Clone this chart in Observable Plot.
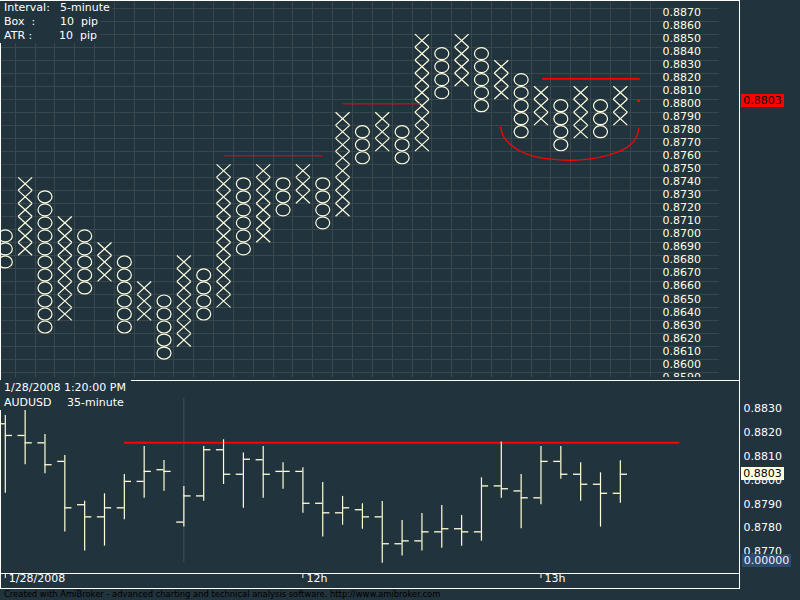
<!DOCTYPE html>
<html>
<head>
<meta charset="utf-8">
<script src="https://cdn.jsdelivr.net/npm/d3@7"></script>
<script src="https://cdn.jsdelivr.net/npm/@observablehq/plot@0.6"></script>
<style>
html, body { margin: 0; padding: 0; background: #21333d; }
#chart { position: relative; width: 800px; height: 600px; background: #21333d; overflow: hidden; font-family: "DejaVu Sans", sans-serif; }
#chart svg { position: absolute; left: 0; }
.ln { position: absolute; background: #ffffff; z-index: 5; }
.hdr { position: absolute; left: 0; height: 14px; line-height: 14px; background: #21333d; color: #ffffff; font-size: 11px; white-space: pre; z-index: 6; }
.hdr span { position: absolute; top: 0; }
.val { position: absolute; font-size: 11px; height: 13px; line-height: 13px; text-align: center; z-index: 7; }
</style>
</head>
<body>
<div id="chart"></div>
<script>
// ---------------- DATA ----------------
// Point & figure columns (box 10 pip)
const pfType = ["O","X","O","X","O","X","O","X","O","X","O","X","O","X","O","X","O","X","O","X","O","X","O","X","O","X","O","X","O","X","O","X"];
const pfHigh = [0.8700,0.8740,0.8730,0.8710,0.8700,0.8690,0.8680,0.8660,0.8650,0.8680,0.8670,0.8750,0.8740,0.8750,0.8740,0.8750,0.8740,0.8790,0.8780,0.8790,0.8780,0.8850,0.8840,0.8850,0.8840,0.8830,0.8820,0.8810,0.8800,0.8810,0.8800,0.8810];
const pfLow  = [0.8680,0.8690,0.8630,0.8640,0.8660,0.8670,0.8630,0.8640,0.8610,0.8620,0.8640,0.8650,0.8690,0.8700,0.8720,0.8730,0.8710,0.8720,0.8760,0.8770,0.8760,0.8770,0.8810,0.8820,0.8800,0.8810,0.8780,0.8790,0.8770,0.8780,0.8780,0.8790];

// red trend lines on the P&F pane (column positions, price)
const pfLineX1 = [11.03, 17.03, 27.08];
const pfLineX2 = [15.99, 20.94, 32.00];
const pfLineP  = [0.87615, 0.88014, 0.88206];
// red saucer arc (column, price)
const arcCol   = [24.96, 25.13, 25.46, 25.97, 26.64, 27.48, 28.49, 29.50, 30.50, 31.35, 31.77, 31.94];
const arcPrice = [0.87835, 0.87758, 0.87702, 0.87650, 0.87610, 0.87589, 0.87581, 0.87592, 0.87625, 0.87681, 0.87746, 0.87827];
const pfDotCol = 31.92, pfDotPrice = 0.8804;
const lastPrice = 0.8803;

const topTicks = [0.8870,0.8860,0.8850,0.8840,0.8830,0.8820,0.8810,0.8800,0.8790,0.8780,0.8770,0.8760,0.8750,0.8740,0.8730,0.8720,0.8710,0.8700,0.8690,0.8680,0.8670,0.8660,0.8650,0.8640,0.8630,0.8620,0.8610,0.8600,0.8590];

// 5-minute OHLC bars
const barOpen  = [0.88237,0.88188,0.88157,0.88079,0.87897,0.87846,0.87884,0.87995,0.88044,0.87824,0.87934,0.88128,0.88025,0.88086,0.88037,0.88037,0.87903,0.87863,0.87876,0.87846,0.87733,0.87745,0.87783,0.87796,0.87783,0.87976,0.87955,0.87926,0.88079,0.88025,0.87983,0.87945];
const barHigh  = [0.88272,0.88300,0.88192,0.88104,0.87912,0.87943,0.88024,0.88142,0.88083,0.87974,0.88142,0.88170,0.88114,0.88142,0.88073,0.88052,0.87990,0.87932,0.87901,0.87911,0.87831,0.87860,0.87894,0.87852,0.88010,0.88161,0.88024,0.88142,0.88142,0.88073,0.88031,0.88082];
const barLow   = [0.87945,0.88065,0.88027,0.87782,0.87702,0.87723,0.87834,0.87924,0.87954,0.87803,0.87912,0.87982,0.87882,0.87924,0.87962,0.87861,0.87761,0.87811,0.87794,0.87651,0.87681,0.87702,0.87714,0.87723,0.87744,0.87924,0.87796,0.87897,0.88004,0.87912,0.87803,0.87903];
const barClose = [0.88188,0.88157,0.88065,0.87884,0.87846,0.87884,0.87995,0.88037,0.88037,0.87934,0.88128,0.88025,0.88088,0.88025,0.88037,0.87903,0.87863,0.87884,0.87846,0.87733,0.87745,0.87783,0.87796,0.87783,0.87976,0.87964,0.87926,0.88079,0.88025,0.87983,0.87945,0.88025];

const resistPrice = 0.88157, resistFrom = 6, resistTo = 34;
const selectedBar = 9, selectedTop = 0.88343, selectedBottom = 0.87655;
const bottomTicks = [0.8830,0.8820,0.8810,0.8800,0.8790,0.8780,0.8770];
const dateTickBar = [0, 15, 27];
const dateTickLabel = ["1/28/2008", "12h", "13h"];

// ---------------- LAYOUT ----------------
const bg = "#21333d", gridColor = "#3a474c", symColor = "#ffffe0", barColor = "#ffffd8", red = "#ff0000";
const colPx = 19.84, col0Px = 4.8;
const xDomain = [-col0Px / colPx, (800 - col0Px) / colPx];

const topH = 377, refP = 0.8740, refPx = 183.3, pxPerUnit = 13020;
const pAtTop = px => refP + (refPx - px) / pxPerUnit;

const botH = 208, botFrameH = 193, botRefP = 0.8830, botRefPx = 28.3, botPxPerUnit = 23800;
const pAtBot = px => botRefP - (px - botRefPx) / botPxPerUnit;

// ---------------- DERIVED TABLES ----------------
const boxes = [];
pfType.forEach((t, i) => {
  const lo = Math.round(pfLow[i] * 10000), hi = Math.round(pfHigh[i] * 10000);
  for (let k = lo; k <= hi; k += 10) boxes.push({i, p: k / 10000, t});
});
const gridP = topTicks.map(p => p + 0.0005).concat([topTicks[topTicks.length - 1] - 0.0005]);
const gridX = d3.range(pfType.length + 1).map(i => i + 0.5);
const pfLines = pfLineP.map((p, k) => ({p, x1: pfLineX1[k], x2: pfLineX2[k]}));
const arc = arcCol.map((c, k) => ({c, p: arcPrice[k]}));
const bars = barOpen.map((o, i) => ({i, open: o, high: barHigh[i], low: barLow[i], close: barClose[i]}));

const xSym = {draw(ctx) { const a = 7, b = 6.4; ctx.moveTo(-a, -b); ctx.lineTo(a, b); ctx.moveTo(a, -b); ctx.lineTo(-a, b); }};
const oSym = {draw(ctx) {
  const a = 7, b = 6.0, k = 0.5523;
  ctx.moveTo(a, 0);
  ctx.bezierCurveTo(a, b * k, a * k, b, 0, b);
  ctx.bezierCurveTo(-a * k, b, -a, b * k, -a, 0);
  ctx.bezierCurveTo(-a, -b * k, -a * k, -b, 0, -b);
  ctx.bezierCurveTo(a * k, -b, a, -b * k, a, 0);
  ctx.closePath();
}};

const fontStyle = {background: "transparent", fontFamily: "DejaVu Sans, sans-serif", fontSize: "11px", overflow: "hidden"};

// ---------------- TOP PANE: point & figure ----------------
const topPlot = Plot.plot({
  width: 800, height: topH, margin: 0,
  style: fontStyle,
  x: {domain: xDomain, range: [0, 800], axis: null},
  y: {domain: [pAtTop(topH), pAtTop(0)], range: [topH, 0], axis: null},
  marks: [
    Plot.ruleY(gridP, {x1: xDomain[0], x2: 36, stroke: gridColor, strokeWidth: 1, shapeRendering: "crispEdges"}),
    Plot.ruleX(gridX, {stroke: gridColor, strokeWidth: 1, shapeRendering: "crispEdges"}),
    Plot.dot(boxes.filter(d => d.t === "X"), {x: "i", y: "p", symbol: xSym, r: 7, fill: "none", stroke: symColor, strokeWidth: 1.2}),
    Plot.dot(boxes.filter(d => d.t === "O"), {x: "i", y: "p", symbol: oSym, r: 7, fill: "none", stroke: symColor, strokeWidth: 1.2}),
    Plot.ruleY(pfLines.slice(0, 2), {y: "p", x1: "x1", x2: "x2", stroke: red, strokeWidth: 1}),
    Plot.ruleY(pfLines.slice(2), {y: "p", x1: "x1", x2: "x2", stroke: red, strokeWidth: 1.6}),
    Plot.line(arc, {x: "c", y: "p", curve: "catmull-rom", stroke: red, strokeWidth: 1.3}),
    Plot.dot([{c: pfDotCol, p: pfDotPrice}], {x: "c", y: "p", symbol: "square", r: 1.7, fill: red}),
    Plot.text(topTicks, {y: d => d, text: d => d.toFixed(4), frameAnchor: "left", dx: 662, dy: -2, textAnchor: "start", fill: symColor, fontSize: 11})
  ]
});
topPlot.style.top = "0px";

// ---------------- BOTTOM PANE: OHLC bars ----------------
const botPlot = Plot.plot({
  width: 800, height: botH, marginTop: 0, marginBottom: botH - botFrameH, marginLeft: 0, marginRight: 0,
  style: fontStyle,
  x: {domain: xDomain, range: [0, 800], axis: null},
  y: {domain: [pAtBot(botFrameH), pAtBot(0)], range: [botFrameH, 0], axis: null},
  marks: [
    Plot.ruleX([selectedBar], {y1: selectedTop, y2: selectedBottom, stroke: "#3d5264", strokeWidth: 1}),
    Plot.ruleY([resistPrice], {x1: resistFrom, x2: resistTo, stroke: red, strokeWidth: 2}),
    Plot.ruleX(bars, {x: "i", y1: "low", y2: "high", stroke: barColor, strokeWidth: 1.2}),
    Plot.ruleY(bars, {y: "open", x1: d => d.i - 0.36, x2: "i", stroke: barColor, strokeWidth: 1.3}),
    Plot.ruleY(bars, {y: "close", x1: "i", x2: d => d.i + 0.36, stroke: barColor, strokeWidth: 1.3}),
    Plot.text(bottomTicks, {y: d => d, text: d => d.toFixed(4), frameAnchor: "left", dx: 743, textAnchor: "start", fill: "#ffffff", fontSize: 11}),
    Plot.ruleX(dateTickBar, {stroke: "#ffffff", strokeWidth: 1, insetTop: botFrameH, insetBottom: -5}),
    Plot.text(dateTickBar, {x: d => d, text: (d, k) => dateTickLabel[k], frameAnchor: "bottom", dx: 3.5, dy: 8, textAnchor: "start", fill: "#ffffff", fontSize: 11})
  ]
});
botPlot.style.top = "380px";

// ---------------- ASSEMBLY ----------------
const chart = document.getElementById("chart");
chart.appendChild(topPlot);
chart.appendChild(botPlot);

function addDiv(cls, css, html) {
  const d = document.createElement("div");
  if (cls) d.className = cls;
  d.style.cssText = css;
  if (html !== undefined) d.innerHTML = html;
  chart.appendChild(d);
  return d;
}
// frame lines
addDiv("ln", "left:0;top:0;width:740px;height:1px");
addDiv("ln", "left:0;top:0;width:1px;height:589px");
addDiv("ln", "left:739px;top:0;width:1px;height:589px");
addDiv("ln", "left:0;top:380px;width:740px;height:1px");
addDiv("ln", "left:0;top:573px;width:740px;height:1px");
addDiv("ln", "left:0;top:588px;width:740px;height:1px");

// header texts
addDiv("hdr", "top:1px;width:112px", '<span style="left:4px">Interval:</span><span style="left:60px">5-minute</span>');
addDiv("hdr", "top:15px;width:101px", '<span style="left:4px">Box  :</span><span style="left:60px">10  pip</span>');
addDiv("hdr", "top:29px;width:100px", '<span style="left:4px">ATR :</span><span style="left:59px">10  pip</span>');
addDiv("hdr", "top:380px;width:131px;height:15px;line-height:15px", '<span style="left:4px">1/28/2008 1:20:00 PM</span>');
addDiv("hdr", "top:395px;width:124px;height:15px;line-height:15px", '<span style="left:4px">AUDUSD</span><span style="left:67px">35-minute</span>');

// value labels positioned with the plots' own scales
const yTopScale = topPlot.scale("y"), yBotScale = botPlot.scale("y");
addDiv("val", `left:741px;top:${yTopScale.apply(lastPrice) - 7}px;width:43px;background:#ff0000;color:#000000`, lastPrice.toFixed(4));
addDiv("val", `left:741px;top:${380 + yBotScale.apply(lastPrice) - 6}px;width:43px;background:#ffffe0;color:#000000`, lastPrice.toFixed(4));
addDiv("val", `left:742px;top:554px;width:49px;background:#2e4a6e;color:#eef2f8`, (0).toFixed(5));

addDiv("", "position:absolute;left:4px;top:588px;font-size:8.4px;line-height:12px;color:#000000;white-space:pre",
  "Created with AmiBroker - advanced charting and technical analysis software. http://www.amibroker.com");
</script>
</body>
</html>
